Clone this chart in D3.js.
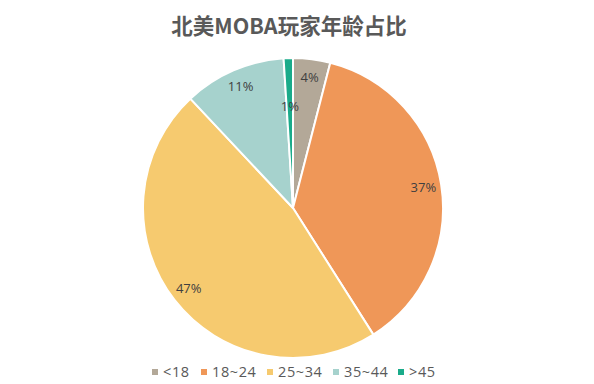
<!DOCTYPE html>
<html><head><meta charset="utf-8">
<script src="https://cdn.jsdelivr.net/npm/d3@7"></script>
<style>body{margin:0;background:#fff}svg{display:block}</style>
</head><body>
<svg id="c" width="594" height="384"></svg>
<script>
const title = "北美MOBA玩家年龄占比";
const categories = ["<18", "18~24", "25~34", "35~44", ">45"];
const values = [4, 37, 47, 11, 1];
const colors = ["#b3a898", "#ef9758", "#f6ca6f", "#a6d2cd", "#1aab8a"];

const svg = d3.select("#c");
const cx = 293, cy = 208, R = 150;
const font = "'Microsoft YaHei','Noto Sans CJK SC','Noto Sans',sans-serif";
const lfont = "'Open Sans','Noto Sans',sans-serif";

svg.append("text").attr("x", 289).attr("y", 34).attr("text-anchor", "middle")
  .attr("font-family", font).attr("font-size", 21.5).attr("font-weight", "bold")
  .attr("fill", "#595959").text(title);

const data = categories.map((c, i) => ({ c, v: values[i], col: colors[i] }));
const pie = d3.pie().value(d => d.v).sort(null);
const arcs = pie(data);
const arc = d3.arc().innerRadius(0).outerRadius(R);
const g = svg.append("g").attr("transform", `translate(${cx},${cy})`);
g.selectAll("path").data(arcs).join("path")
  .attr("d", arc).attr("fill", d => d.data.col)
  .attr("stroke", "#fff").attr("stroke-width", 2).attr("stroke-linejoin", "round");

const total = d3.sum(values);
g.selectAll("text.lbl").data(arcs).join("text").attr("class", "lbl")
  .attr("transform", d => {
    const r = (d.data.v / total) < 0.02 ? 102 : 132;
    const a = (d.startAngle + d.endAngle) / 2;
    return `translate(${r * Math.sin(a)},${-r * Math.cos(a)})`;
  })
  .attr("text-anchor", "middle").attr("dy", "0.35em")
  .attr("font-family", lfont).attr("font-size", 13).attr("fill", "#404040")
  .text(d => Math.round(d.data.v / total * 100) + "%");

const legX = [152, 201, 267, 333, 398];
const lg = svg.append("g");
data.forEach((d, i) => {
  lg.append("rect").attr("x", legX[i]).attr("y", 369).attr("width", 6).attr("height", 6).attr("fill", d.col);
  lg.append("text").attr("x", legX[i] + 11).attr("y", 372).attr("dy", "0.35em")
    .attr("font-family", lfont).attr("font-size", 14.5).attr("letter-spacing", 0.6)
    .attr("fill", "#595959").text(d.c);
});
</script>
</body></html>
